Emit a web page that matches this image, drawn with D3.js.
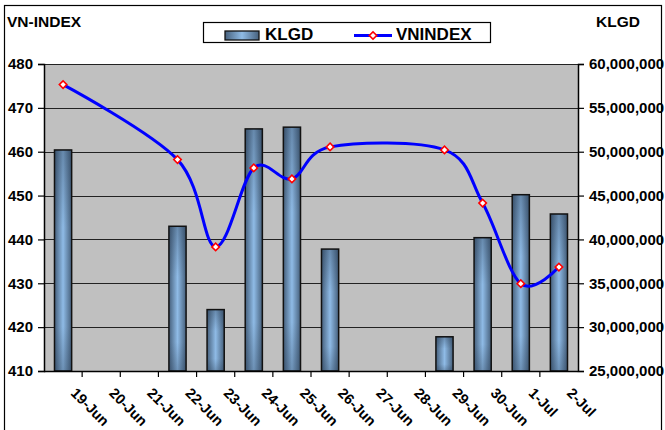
<!DOCTYPE html>
<html><head><meta charset="utf-8">
<script src="https://cdn.jsdelivr.net/npm/d3@7/dist/d3.min.js"></script>
<style>
body{margin:0;background:#fff}
svg{display:block}
text{font-family:Arial,"Liberation Sans",sans-serif;font-weight:bold;fill:#000}
</style>
</head><body>
<svg id="c" width="665" height="430"></svg>
<script>
const days = ["19-Jun","20-Jun","21-Jun","22-Jun","23-Jun","24-Jun","25-Jun","26-Jun","27-Jun","28-Jun","29-Jun","30-Jun","1-Jul","2-Jul"];
const tradeDays = ["19-Jun","22-Jun","23-Jun","24-Jun","25-Jun","26-Jun","29-Jun","30-Jun","1-Jul","2-Jul"];
const klgd = [50200000, 41500000, 32000000, 52600000, 52800000, 38900000, 28900000, 40200000, 45100000, 42900000];
const vnindex = [475.3, 458.2, 438.3, 456.3, 453.8, 461.1, 460.4, 448.3, 429.9, 433.7];
const leftTicks = [410, 420, 430, 440, 450, 460, 470, 480];
const rightTicks = [25000000, 30000000, 35000000, 40000000, 45000000, 50000000, 55000000, 60000000];
const seriesNames = ["KLGD", "VNINDEX"];
const leftTitle = "VN-INDEX", rightTitle = "KLGD";

const svg = d3.select("#c");
const L = 44, R = 578, T = 64, B = 371;
const x = d3.scaleBand().domain(days).range([L, R]);
const yL = d3.scaleLinear().domain([410, 480]).range([B, T]);
const yR = d3.scaleLinear().domain([25e6, 60e6]).range([B, T]);
const cx = d => x(d) + x.bandwidth() / 2;

const defs = svg.append("defs");
const g1 = defs.append("linearGradient").attr("id", "barH").attr("x1", 0).attr("x2", 1).attr("y1", 0).attr("y2", 0);
[[0, "#46607c"], [0.5, "#8fbbe6"], [1, "#46607c"]].forEach(s => g1.append("stop").attr("offset", s[0]).attr("stop-color", s[1]));
const g2 = defs.append("linearGradient").attr("id", "barV").attr("x1", 0).attr("x2", 0).attr("y1", 0).attr("y2", 1);
[[0, "#1e3046", 0.35], [0.35, "#1e3046", 0], [0.8, "#1e3046", 0], [1, "#1e3046", 0.3]].forEach(s => g2.append("stop").attr("offset", s[0]).attr("stop-color", s[1]).attr("stop-opacity", s[2]));

svg.append("rect").attr("x", 0).attr("y", 0).attr("width", 665).attr("height", 430).attr("fill", "#fff");
svg.append("rect").attr("x", 4.5).attr("y", 5.5).attr("width", 657).attr("height", 440).attr("fill", "none").attr("stroke", "#000").attr("stroke-width", 1.2);

// plot area
svg.append("rect").attr("x", L).attr("y", T).attr("width", R - L).attr("height", B - T).attr("fill", "#c0c0c0");
svg.append("g").selectAll("line").data(leftTicks.slice(1)).join("line")
  .attr("x1", L).attr("x2", R).attr("y1", d => Math.round(yL(d)) + 0.5).attr("y2", d => Math.round(yL(d)) + 0.5)
  .attr("stroke", "#222").attr("stroke-width", 1);

// bars
const bw = x.bandwidth() * 0.45;
const bars = svg.append("g");
tradeDays.forEach((d, i) => {
  const bx = cx(d) - bw / 2, by = yR(klgd[i]);
  bars.append("rect").attr("x", bx).attr("y", by).attr("width", bw).attr("height", B - by).attr("fill", "url(#barH)");
  bars.append("rect").attr("x", bx).attr("y", by).attr("width", bw).attr("height", B - by).attr("fill", "url(#barV)")
    .attr("stroke", "#111").attr("stroke-width", 1.5);
});

// line
const pts = tradeDays.map((d, i) => [cx(d), yL(vnindex[i])]);
svg.append("path").attr("d", d3.line().curve(d3.curveCardinal.tension(0))(pts))
  .attr("fill", "none").attr("stroke", "#0000ff").attr("stroke-width", 3);
svg.append("g").selectAll("path").data(pts).join("path")
  .attr("d", d3.symbol().type(d3.symbolSquare).size(28)())
  .attr("transform", p => `translate(${p[0]},${p[1]}) rotate(45)`)
  .attr("fill", "#fff").attr("stroke", "#ff0000").attr("stroke-width", 1.6);

// axes
const axL = svg.append("g").attr("transform", `translate(${L},0)`)
  .call(d3.axisLeft(yL).tickValues(leftTicks).tickSize(6).tickPadding(5).tickFormat(d3.format("d")));
const axR = svg.append("g").attr("transform", `translate(${R},0)`)
  .call(d3.axisRight(yR).tickValues(rightTicks).tickSize(6).tickPadding(5).tickFormat(d3.format(",")));
[axL, axR].forEach(a => {
  a.select(".domain").attr("stroke", "#000").attr("stroke-width", 1.5);
  a.selectAll(".tick line").attr("stroke", "#000").attr("stroke-width", 1.2);
  a.selectAll("text").attr("font-size", 15).attr("font-family", "Arial, 'Liberation Sans', sans-serif").attr("font-weight", "bold").attr("fill", "#000");
});

// bottom axis
svg.append("line").attr("x1", L).attr("x2", R).attr("y1", B + 0.5).attr("y2", B + 0.5).attr("stroke", "#000").attr("stroke-width", 1.5);
svg.append("g").selectAll("line").data(days.slice(1)).join("line")
  .attr("x1", d => x(d)).attr("x2", d => x(d)).attr("y1", B).attr("y2", B + 6)
  .attr("stroke", "#000").attr("stroke-width", 1.2);
svg.append("g").selectAll("text").data(days).join("text")
  .attr("transform", d => `translate(${cx(d) + 7},${B + 23}) rotate(45)`)
  .attr("font-size", 14.5).text(d => d);

// titles
svg.append("text").attr("x", 7).attr("y", 27).attr("font-size", 15.5).text(leftTitle);
svg.append("text").attr("x", 596).attr("y", 27).attr("font-size", 15.5).text(rightTitle);

// legend
const lg = svg.append("g");
lg.append("rect").attr("x", 203.5).attr("y", 22.5).attr("width", 287).attr("height", 20).attr("fill", "#fff").attr("stroke", "#000").attr("stroke-width", 1.2);
lg.append("rect").attr("x", 225).attr("y", 31).attr("width", 34).attr("height", 9).attr("fill", "url(#barH)").attr("stroke", "#111").attr("stroke-width", 1.3);
lg.append("text").attr("x", 265).attr("y", 40).attr("font-size", 17).text(seriesNames[0]);
lg.append("line").attr("x1", 354).attr("x2", 392).attr("y1", 35.5).attr("y2", 35.5).attr("stroke", "#0000ff").attr("stroke-width", 3);
lg.append("path").attr("d", d3.symbol().type(d3.symbolSquare).size(28)()).attr("transform", "translate(373,35.5) rotate(45)")
  .attr("fill", "#fff").attr("stroke", "#ff0000").attr("stroke-width", 1.6);
lg.append("text").attr("x", 396).attr("y", 40).attr("font-size", 17).text(seriesNames[1]);
</script>
</body></html>
